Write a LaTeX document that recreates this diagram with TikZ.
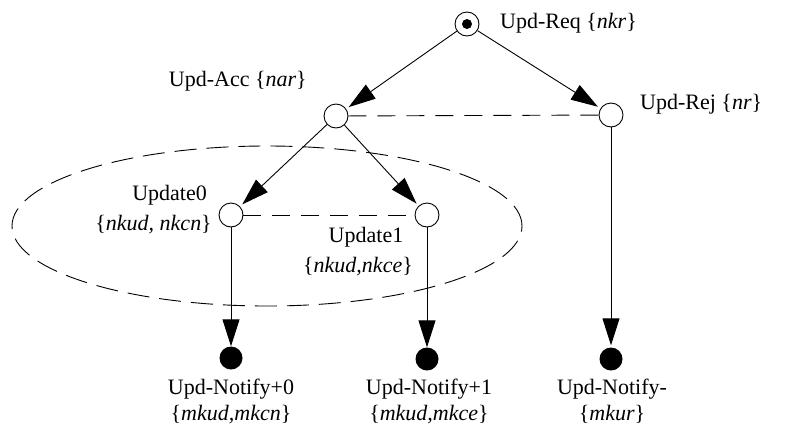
\documentclass[tikz,border=0pt]{standalone}
\usepackage{fontspec}
\setmainfont{Liberation Serif}
\usetikzlibrary{arrows.meta,shapes.geometric}
\begin{document}
\begin{tikzpicture}[x=1pt,y=-1pt,
  state/.style={circle,draw,line width=0.9pt,minimum size=24pt,inner sep=0pt},
  final/.style={circle,fill=black,minimum size=23pt,inner sep=0pt},
  lbl/.style={font=\fontsize{22}{26}\selectfont,inner sep=0pt,align=center},
  edge/.style={line width=0.9pt,-{Triangle[length=27pt,width=17pt]}},
  link/.style={line width=0.9pt,dash pattern=on 18pt off 11pt},
  group/.style={line width=0.9pt,dash pattern=on 22pt off 10pt}]
\useasboundingbox (0,0) rectangle (786,434);

% states
\node[state] (req) at (467,24) {};
\node[circle,fill=black,minimum size=10pt,inner sep=0pt] (reqdot) at (467,24) {};
\node[state] (acc) at (336,116) {};
\node[state] (rej) at (611,115) {};
\node[state] (u0) at (231,215) {};
\node[state] (u1) at (427,215) {};
\node[final] (n0) at (231,358) {};
\node[final] (n1) at (427,359) {};
\node[final] (nm) at (611,359) {};

% grouping of the update states
\node[draw,ellipse,group,minimum width=510pt,minimum height=160pt] (grp) at (267,226) {};

% transitions
\draw[edge,shorten >=3pt] (req) -- (acc);
\draw[edge,shorten >=3pt] (req) -- (rej);
\draw[edge,shorten >=3pt] (acc) -- (u0);
\draw[edge,shorten >=3pt] (acc) -- (u1);
\draw[edge] (u0) -- (n0);
\draw[edge] (u1) -- (n1);
\draw[edge,shorten >=2pt] (rej) -- (nm);
\draw[link] (acc) -- (rej);
\draw[link] (u0) -- (u1);

% labels
\node[lbl,anchor=base west] (lreq) at (500,28) {Upd-Req \{\textit{nkr}\}};
\node[lbl,anchor=base east] (lacc) at (307,86) {Upd-Acc \{\textit{nar}\}};
\node[lbl,anchor=base west] (lrej) at (640,109) {Upd-Rej \{\textit{nr}\}};
\node[lbl,anchor=base east] (lu0a) at (207,200) {Update0};
\node[lbl,anchor=base east] (lu0b) at (212,230) {\{\textit{nkud, nkcn}\}};
\node[lbl,anchor=base] (lu1a) at (366,242) {Update1};
\node[lbl,anchor=base] (lu1b) at (358,272) {\{\textit{nkud,nkce}\}};
\node[lbl,anchor=base] (ln0a) at (231,394) {Upd-Notify+0};
\node[lbl,anchor=base] (ln0b) at (231,420) {\{\textit{mkud,mkcn}\}};
\node[lbl,anchor=base] (ln1a) at (429,394) {Upd-Notify+1};
\node[lbl,anchor=base] (ln1b) at (429,420) {\{\textit{mkud,mkce}\}};
\node[lbl,anchor=base] (lnma) at (612,394) {Upd-Notify-};
\node[lbl,anchor=base] (lnmb) at (612,420) {\{\textit{mkur}\}};
\end{tikzpicture}
\end{document}
